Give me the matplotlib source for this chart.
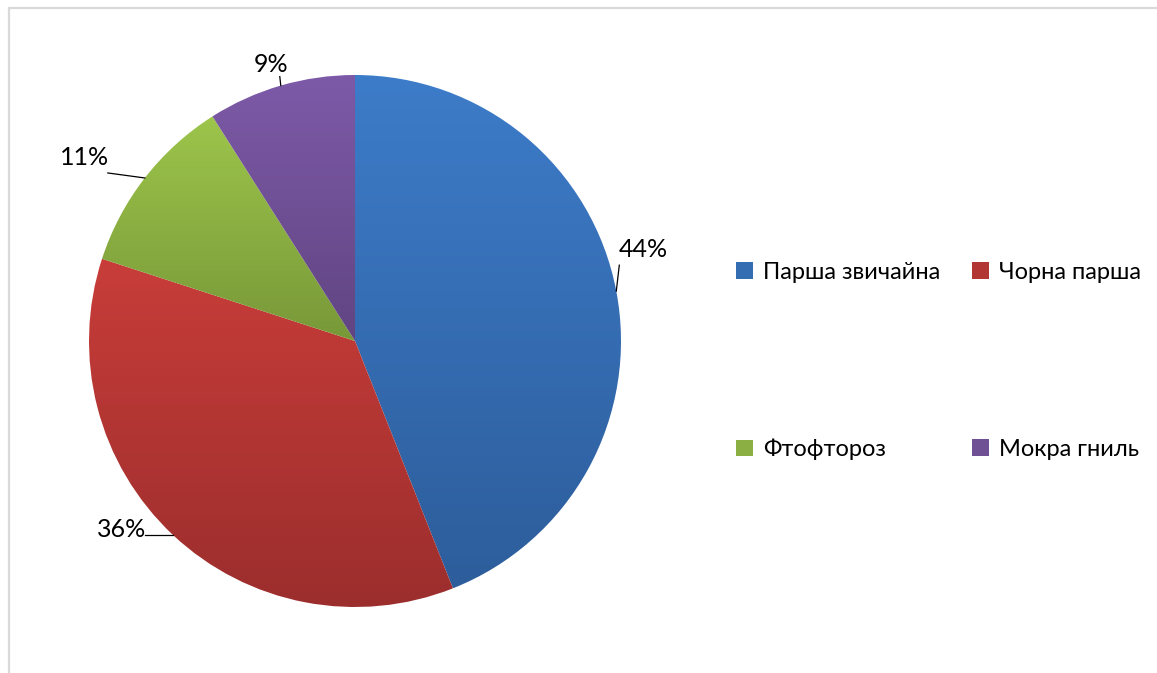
import numpy as np
import matplotlib
matplotlib.use("Agg")
import matplotlib.pyplot as plt
from matplotlib.colors import to_rgb
from matplotlib.patches import Rectangle

plt.rcParams['font.family'] = ['Lato', 'DejaVu Sans']

# disease shares, %
names = ["Парша звичайна", "Чорна парша", "Фтофтороз", "Мокра гниль"]
shares = [44, 36, 11, 9]
labels = ["44%", "36%", "11%", "9%"]

# top / bottom colours of the vertical gradient on each slice
light = ["#3d7cc9", "#c83d39", "#9dc54b", "#7d5aa8"]
dark = ["#2d5d9b", "#9b2e2d", "#789838", "#614582"]

# label offsets from the slice edge (px, y up): leader line end, text centre
line_end = [(3, 26), (-28, 0), (-37, 5), (-1, 9)]
text_off = [(27, 42), (-51, 5), (-60, 20), (-10, 21)]

W, H = 1157, 673
fig = plt.figure(figsize=(W / 100, H / 100), dpi=100)

# light grey chart frame
fig.add_artist(Rectangle((8.5 / W, -0.2), 1.2, 1.2 - 7.5 / H, transform=fig.transFigure,
                         fill=False, edgecolor="#d9d9d9", linewidth=1.6))

R = 266.0
cx, cy = 355, 341
half = 300
ax = fig.add_axes([(cx - half) / W, (H - cy - half) / H, 2 * half / W, 2 * half / H])

wedges, _ = ax.pie(shares, startangle=90, counterclock=False, radius=1,
                   wedgeprops=dict(linewidth=0))

grad = np.linspace(0, 1, 256)[:, None, None]
for w, lc, dc in zip(wedges, light, dark):
    lo, hi = np.array(to_rgb(dc)), np.array(to_rgb(lc))
    img = lo + (hi - lo) * grad
    bb = w.get_path().get_extents()
    im = ax.imshow(img, extent=(bb.x0, bb.x1, bb.y0, bb.y1), origin='lower',
                   aspect='auto', interpolation='bilinear', zorder=1)
    im.set_clip_path(w)
    w.set_facecolor('none')

# percentage labels with leader lines
px = 1.0 / R
for w, lab, le, to in zip(wedges, labels, line_end, text_off):
    mid = np.deg2rad((w.theta1 + w.theta2) / 2)
    ex, ey = np.cos(mid), np.sin(mid)
    ax.plot([ex, ex + le[0] * px], [ey, ey + le[1] * px], color="black", lw=0.9, zorder=3)
    ax.text(ex + to[0] * px, ey + to[1] * px, lab, ha='center', va='center',
            fontsize=18, color="black")

lim = half / R
ax.set_xlim(-lim, lim)
ax.set_ylim(-lim, lim)
ax.set_aspect('equal')
ax.axis('off')

handles = [Rectangle((0, 0), 1, 1, facecolor=tuple((np.array(to_rgb(l)) + np.array(to_rgb(d))) / 2))
           for l, d in zip(light, dark)]
# legend fills column by column, so reorder to read row by row
order = [0, 2, 1, 3]
fig.legend([handles[i] for i in order], [names[i] for i in order], ncol=2, loc='upper left',
           bbox_to_anchor=(736 / W, 1 - 262 / H), frameon=False,
           fontsize=17, borderpad=0, borderaxespad=0,
           handlelength=0.7, handleheight=0.7, handletextpad=0.45,
           columnspacing=1.35, labelspacing=6.6)

fig.savefig("out.png", dpi=100)
